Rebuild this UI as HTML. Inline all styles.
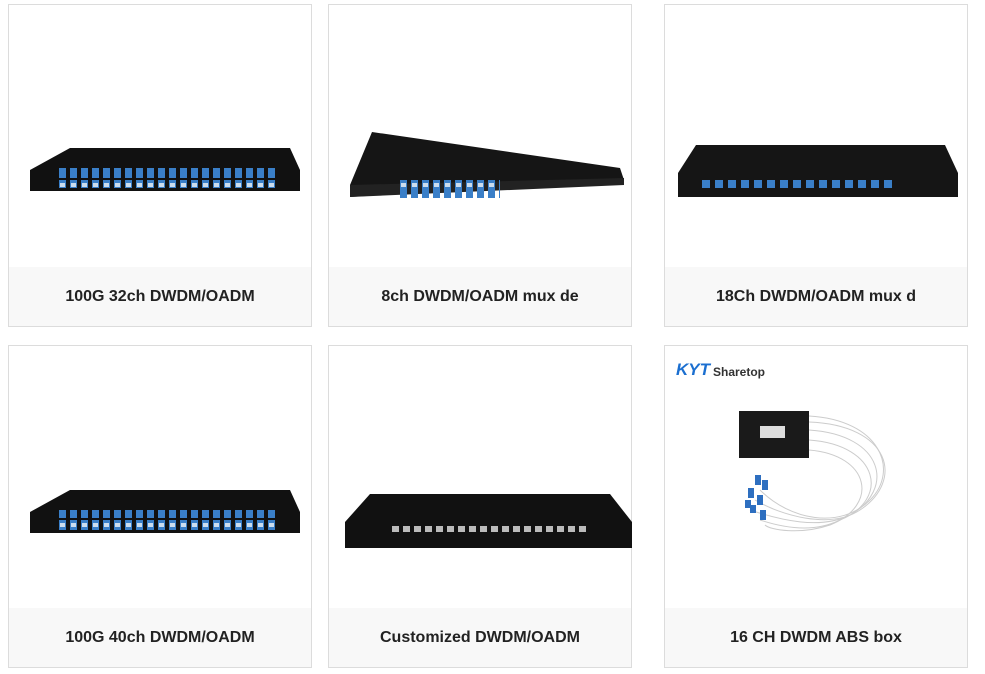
<!DOCTYPE html>
<html><head><meta charset="utf-8"><style>
body{margin:0;width:985px;height:674px;background:#fff;position:relative;overflow:hidden;font-family:"Liberation Sans",Arial,sans-serif}
.card{position:absolute;width:304px;height:323px;border:1px solid #dcdcdc;box-sizing:border-box;background:#fff}
.cap{position:absolute;left:0;right:0;bottom:0;height:59px;background:#f8f8f8;text-align:center;line-height:60px;font-weight:bold;font-size:16px;color:#222}
svg{position:absolute;left:0;top:0}
</style></head><body>
<div class="card" style="left:8px;top:4px"><div class="cap">100G 32ch DWDM/OADM</div></div>
<div class="card" style="left:328px;top:4px"><div class="cap">8ch DWDM/OADM mux de</div></div>
<div class="card" style="left:664px;top:4px"><div class="cap">18Ch DWDM/OADM mux d</div></div>
<div class="card" style="left:8px;top:345px"><div class="cap">100G 40ch DWDM/OADM</div></div>
<div class="card" style="left:328px;top:345px"><div class="cap">Customized DWDM/OADM</div></div>
<div class="card" style="left:664px;top:345px"><div class="cap">16 CH DWDM ABS box</div></div>
<svg width="985" height="674">
<defs>
<pattern id="p1" x="58" y="0" width="11" height="20" patternUnits="userSpaceOnUse"><rect x="1" y="0" width="7" height="18" fill="#3a7fc8"/><rect x="2" y="3" width="5" height="4" fill="#cde"/></pattern>
<pattern id="p3" x="700" y="0" width="13" height="20" patternUnits="userSpaceOnUse"><rect x="2" y="0" width="8" height="10" fill="#3a7fc8"/></pattern>
<pattern id="p5" x="390" y="0" width="11" height="20" patternUnits="userSpaceOnUse"><rect x="2" y="0" width="7" height="12" fill="#bbb"/></pattern>
</defs>
<polygon points="30,170 70,148 290,148 300,170 300,191 30,191" fill="#111"/>
<rect x="58" y="168" width="220" height="20" fill="url(#p1)"/>
<polygon points="30,512 70,490 290,490 300,512 300,533 30,533" fill="#111"/>
<rect x="58" y="510" width="220" height="20" fill="url(#p1)"/>
<polygon points="350,185 372,132 620,168 624,180 350,197" fill="#151515"/>
<polygon points="350,185 624,178 624,185 350,197" fill="#222"/>
<rect x="400" y="180" width="100" height="18" fill="url(#p1)"/>
<polygon points="678,173 696,145 945,145 958,173 958,197 678,197" fill="#151515"/>
<rect x="700" y="178" width="195" height="10" fill="url(#p3)"/>
<polygon points="345,522 370,494 610,494 632,522 632,548 345,548" fill="#111"/>
<rect x="390" y="526" width="200" height="12" fill="url(#p5)"/>
<text x="676" y="375" font-size="17" font-weight="bold" font-style="italic" fill="#1b6fd0">KYT</text>
<text x="713" y="376" font-size="12" font-weight="bold" fill="#333">Sharetop</text>
<rect x="739" y="411" width="70" height="47" fill="#1a1a1a"/>
<rect x="760" y="426" width="25" height="12" fill="#ddd"/>
<g fill="none" stroke="#ccc" stroke-width="1">
<path d="M809,416 C880,420 900,470 870,500 C840,530 790,520 760,490"/>
<path d="M809,422 C890,425 905,480 860,510 C830,530 780,515 755,500"/>
<path d="M809,430 C885,435 895,490 850,515 C820,530 780,520 750,510"/>
<path d="M809,440 C880,445 890,500 840,520 C810,535 775,525 760,520"/>
<path d="M809,450 C870,455 880,505 830,525 C800,535 770,530 765,525"/>
</g>
<g fill="#2e6fc0"><rect x="755" y="475" width="6" height="10"/><rect x="762" y="480" width="6" height="10"/><rect x="748" y="488" width="6" height="10"/><rect x="757" y="495" width="6" height="10"/><rect x="745" y="500" width="6" height="8"/><rect x="760" y="510" width="6" height="10"/><rect x="750" y="505" width="6" height="8"/></g>
</svg>
</body></html>
